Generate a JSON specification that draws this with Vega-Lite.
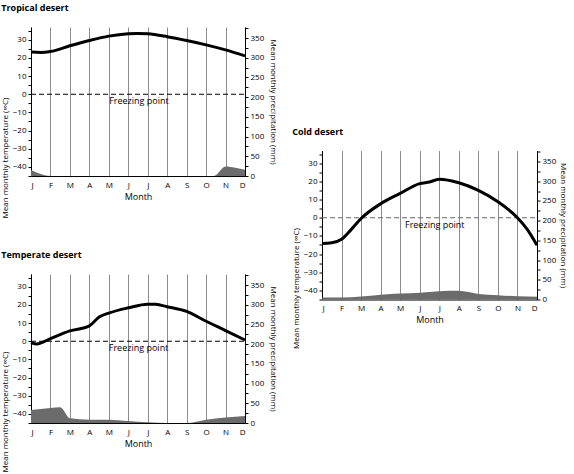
{
  "$schema": "https://vega.github.io/schema/vega-lite/v6.json",
  "padding": {"left": 1, "top": 4, "right": 6, "bottom": 0},
  "background": "white",
  "datasets": {
    "tropT": [
      {"m": 0, "t": 23.2}, {"m": 0.5, "t": 23}, {"m": 1, "t": 23.5}, {"m": 2, "t": 26.7},
      {"m": 3, "t": 29.6}, {"m": 4, "t": 32}, {"m": 5, "t": 33.3}, {"m": 5.5, "t": 33.5},
      {"m": 6, "t": 33.3}, {"m": 7, "t": 31.7}, {"m": 8, "t": 29.6}, {"m": 9, "t": 27.2},
      {"m": 10, "t": 24.4}, {"m": 11, "t": 21.1}
    ],
    "tropP": [
      {"m": 0, "p": 15}, {"m": 1, "p": 0}, {"m": 9.4, "p": 0}, {"m": 10, "p": 24},
      {"m": 10.5, "p": 21}, {"m": 11, "p": 16}
    ],
    "tempT": [
      {"m": 0, "t": -0.7}, {"m": 0.3, "t": -1.5}, {"m": 1, "t": 1.5}, {"m": 2, "t": 5.7},
      {"m": 3, "t": 8.5}, {"m": 3.5, "t": 13.3}, {"m": 4, "t": 15.5}, {"m": 5, "t": 18.4},
      {"m": 6, "t": 20.4}, {"m": 6.4, "t": 20.3}, {"m": 7, "t": 19}, {"m": 8, "t": 16.4},
      {"m": 9, "t": 11}, {"m": 10, "t": 5.9}, {"m": 11, "t": 0.7}
    ],
    "tempP": [
      {"m": 0, "p": 33}, {"m": 1, "p": 38}, {"m": 1.5, "p": 40}, {"m": 2, "p": 12},
      {"m": 3, "p": 8.5}, {"m": 4, "p": 8.5}, {"m": 5, "p": 5}, {"m": 6, "p": 2},
      {"m": 7, "p": 0}, {"m": 8, "p": 0}, {"m": 9, "p": 8.5}, {"m": 10, "p": 14}, {"m": 11, "p": 18}
    ],
    "coldT": [
      {"m": 0, "t": -14.2}, {"m": 0.5, "t": -13.8}, {"m": 1, "t": -11.8}, {"m": 1.5, "t": -6.4},
      {"m": 2, "t": -0.4}, {"m": 3, "t": 7.7}, {"m": 4, "t": 13.4}, {"m": 5, "t": 18.8},
      {"m": 5.5, "t": 19.7}, {"m": 6, "t": 21.2}, {"m": 7, "t": 19.3}, {"m": 8, "t": 15.1},
      {"m": 9, "t": 8.8}, {"m": 10, "t": 0}, {"m": 10.5, "t": -6.4}, {"m": 11, "t": -15.1}
    ],
    "coldP": [
      {"m": 0, "p": 5}, {"m": 1, "p": 5}, {"m": 2, "p": 7.5}, {"m": 3, "p": 12},
      {"m": 4, "p": 15}, {"m": 5, "p": 17.5}, {"m": 6, "p": 21}, {"m": 7, "p": 22},
      {"m": 8, "p": 14}, {"m": 9, "p": 11}, {"m": 10, "p": 8}, {"m": 11, "p": 7}
    ],
    "freeze": [{"m": 0, "t": 0}, {"m": 11, "t": 0}]
  },
  "hconcat": [
    {
      "vconcat": [
        {
          "width": 214, "height": 149,
          "title": {"text": "Tropical desert"},
          "layer": [
            {
              "data": {"name": "tropP"},
              "mark": {"type": "area", "color": "#6b6b6b", "interpolate": "monotone"},
              "encoding": {
                "x": {"field": "m", "type": "quantitative", "scale": {"domain": [0, 11], "nice": false, "zero": false},
                  "axis": {"title": "Month", "values": [0,1,2,3,4,5,6,7,8,9,10,11], "labelExpr": "['J','F','M','A','M','J','J','A','S','O','N','D'][datum.value]", "grid": true, "gridColor": "#8c8c8c", "ticks": false, "labelPadding": 5, "titlePadding": 3, "titleFontSize": 9}},
                "y": {"field": "p", "type": "quantitative", "scale": {"domain": [0, 378], "nice": false, "zero": true},
                  "axis": {"orient": "right", "title": "Mean monthly precipitation (mm)", "values": [0,25,50,75,100,125,150,175,200,225,250,275,300,325,350,375], "labelExpr": "datum.value % 50 === 0 ? datum.label : ''", "titlePadding": 5}}
              }
            },
            {
              "encoding": {
                "x": {"field": "m", "type": "quantitative", "scale": {"domain": [0, 11], "nice": false, "zero": false},
                  "axis": {"title": "Month", "values": [0,1,2,3,4,5,6,7,8,9,10,11], "labelExpr": "['J','F','M','A','M','J','J','A','S','O','N','D'][datum.value]", "grid": true, "gridColor": "#8c8c8c", "ticks": false, "labelPadding": 5, "titlePadding": 3, "titleFontSize": 9}},
                "y": {"field": "t", "type": "quantitative", "scale": {"domain": [-45, 37], "nice": false, "zero": false},
                  "axis": {"orient": "left", "title": "Mean monthly temperature (∞C)", "values": [-45,-40,-35,-30,-25,-20,-15,-10,-5,0,5,10,15,20,25,30,35], "labelExpr": "datum.value % 10 === 0 ? datum.label : ''", "titleY": 70, "titleAlign": "right", "titlePadding": 3}}
              },
              "layer": [
                {
                  "data": {"name": "freeze"},
                  "mark": {"type": "line", "color": "black", "strokeWidth": 1.2, "strokeDash": [5, 3]}
                },
                {
                  "data": {"name": "tropT"},
                  "mark": {"type": "line", "color": "black", "strokeWidth": 3, "interpolate": "monotone"}
                },
                {
                  "data": {"values": [{"m": 5.55, "t": 0, "label": "Freezing point"}]},
                  "mark": {"type": "text", "baseline": "top", "dy": 3, "fontSize": 9, "color": "black"},
                  "encoding": {"text": {"field": "label"}}
                }
              ]
            }
          ],
          "resolve": {"scale": {"y": "independent"}}
        },
        {
          "width": 214, "height": 149,
          "title": {"text": "Temperate desert"},
          "layer": [
            {
              "data": {"name": "tempP"},
              "mark": {"type": "area", "color": "#6b6b6b", "interpolate": "monotone"},
              "encoding": {
                "x": {"field": "m", "type": "quantitative", "scale": {"domain": [0, 11], "nice": false, "zero": false},
                  "axis": {"title": "Month", "values": [0,1,2,3,4,5,6,7,8,9,10,11], "labelExpr": "['J','F','M','A','M','J','J','A','S','O','N','D'][datum.value]", "grid": true, "gridColor": "#8c8c8c", "ticks": false, "labelPadding": 5, "titlePadding": 3, "titleFontSize": 9}},
                "y": {"field": "p", "type": "quantitative", "scale": {"domain": [0, 378], "nice": false, "zero": true},
                  "axis": {"orient": "right", "title": "Mean monthly precipitation (mm)", "values": [0,25,50,75,100,125,150,175,200,225,250,275,300,325,350,375], "labelExpr": "datum.value % 50 === 0 ? datum.label : ''", "titlePadding": 5}}
              }
            },
            {
              "encoding": {
                "x": {"field": "m", "type": "quantitative", "scale": {"domain": [0, 11], "nice": false, "zero": false},
                  "axis": {"title": "Month", "values": [0,1,2,3,4,5,6,7,8,9,10,11], "labelExpr": "['J','F','M','A','M','J','J','A','S','O','N','D'][datum.value]", "grid": true, "gridColor": "#8c8c8c", "ticks": false, "labelPadding": 5, "titlePadding": 3, "titleFontSize": 9}},
                "y": {"field": "t", "type": "quantitative", "scale": {"domain": [-45, 37], "nice": false, "zero": false},
                  "axis": {"orient": "left", "title": "Mean monthly temperature (∞C)", "values": [-45,-40,-35,-30,-25,-20,-15,-10,-5,0,5,10,15,20,25,30,35], "labelExpr": "datum.value % 10 === 0 ? datum.label : ''", "titleY": 77, "titleAlign": "right", "titlePadding": 3}}
              },
              "layer": [
                {
                  "data": {"name": "freeze"},
                  "mark": {"type": "line", "color": "black", "strokeWidth": 1.2, "strokeDash": [5, 3]}
                },
                {
                  "data": {"name": "tempT"},
                  "mark": {"type": "line", "color": "black", "strokeWidth": 3, "interpolate": "monotone"}
                },
                {
                  "data": {"values": [{"m": 5.53, "t": 0, "label": "Freezing point"}]},
                  "mark": {"type": "text", "baseline": "top", "dy": 3, "fontSize": 9, "color": "black"},
                  "encoding": {"text": {"field": "label"}}
                }
              ]
            }
          ],
          "resolve": {"scale": {"y": "independent"}}
        }
      ],
      "spacing": 98,
      "bounds": "flush"
    },
    {
      "width": 215, "height": 149,
      "title": {"text": "Cold desert"},
      "layer": [
        {
          "data": {"name": "coldP"},
          "mark": {"type": "area", "color": "#6b6b6b", "interpolate": "monotone"},
          "encoding": {
            "x": {"field": "m", "type": "quantitative", "scale": {"domain": [0, 11], "nice": false, "zero": false},
              "axis": {"title": "Month", "values": [0,1,2,3,4,5,6,7,8,9,10,11], "labelExpr": "['J','F','M','A','M','J','J','A','S','O','N','D'][datum.value]", "grid": true, "gridColor": "#8c8c8c", "ticks": false, "labelPadding": 5, "titlePadding": 3, "titleFontSize": 9}},
            "y": {"field": "p", "type": "quantitative", "scale": {"domain": [0, 378], "nice": false, "zero": true},
              "axis": {"orient": "right", "title": "Mean monthly precipitation (mm)", "values": [0,25,50,75,100,125,150,175,200,225,250,275,300,325,350,375], "labelExpr": "datum.value % 50 === 0 ? datum.label : ''", "titlePadding": 3}}
          }
        },
        {
          "encoding": {
            "x": {"field": "m", "type": "quantitative", "scale": {"domain": [0, 11], "nice": false, "zero": false},
              "axis": {"title": "Month", "values": [0,1,2,3,4,5,6,7,8,9,10,11], "labelExpr": "['J','F','M','A','M','J','J','A','S','O','N','D'][datum.value]", "grid": true, "gridColor": "#8c8c8c", "ticks": false, "labelPadding": 5, "titlePadding": 3, "titleFontSize": 9}},
            "y": {"field": "t", "type": "quantitative", "scale": {"domain": [-45, 37], "nice": false, "zero": false},
              "axis": {"orient": "left", "title": "Mean monthly temperature (∞C)", "values": [-45,-40,-35,-30,-25,-20,-15,-10,-5,0,5,10,15,20,25,30,35], "labelExpr": "datum.value % 10 === 0 ? datum.label : ''", "titleY": 77, "titleAlign": "right", "titlePadding": 3}}
          },
          "layer": [
            {
              "data": {"name": "freeze"},
              "mark": {"type": "line", "color": "#666666", "strokeWidth": 1.2, "strokeDash": [5, 3]}
            },
            {
              "data": {"name": "coldT"},
              "mark": {"type": "line", "color": "black", "strokeWidth": 3, "interpolate": "monotone"}
            },
            {
              "data": {"values": [{"m": 5.77, "t": 0, "label": "Freezing point"}]},
              "mark": {"type": "text", "baseline": "top", "dy": 3, "fontSize": 9, "color": "black"},
              "encoding": {"text": {"field": "label"}}
            }
          ]
        }
      ],
      "resolve": {"scale": {"y": "independent"}}
    }
  ],
  "spacing": 15,
  "center": true,
  "config": {
    "font": "Open Sans",
    "view": {"stroke": null},
    "axis": {
      "labelFontSize": 8, "titleFontSize": 8, "titleFontWeight": "normal",
      "labelColor": "black", "titleColor": "black", "domainColor": "black",
      "tickColor": "black", "tickSize": 3, "grid": false, "labelPadding": 2
    },
    "title": {"fontSize": 9, "fontWeight": "bold", "anchor": "start", "frame": "bounds", "offset": 14, "color": "black"}
  }
}
